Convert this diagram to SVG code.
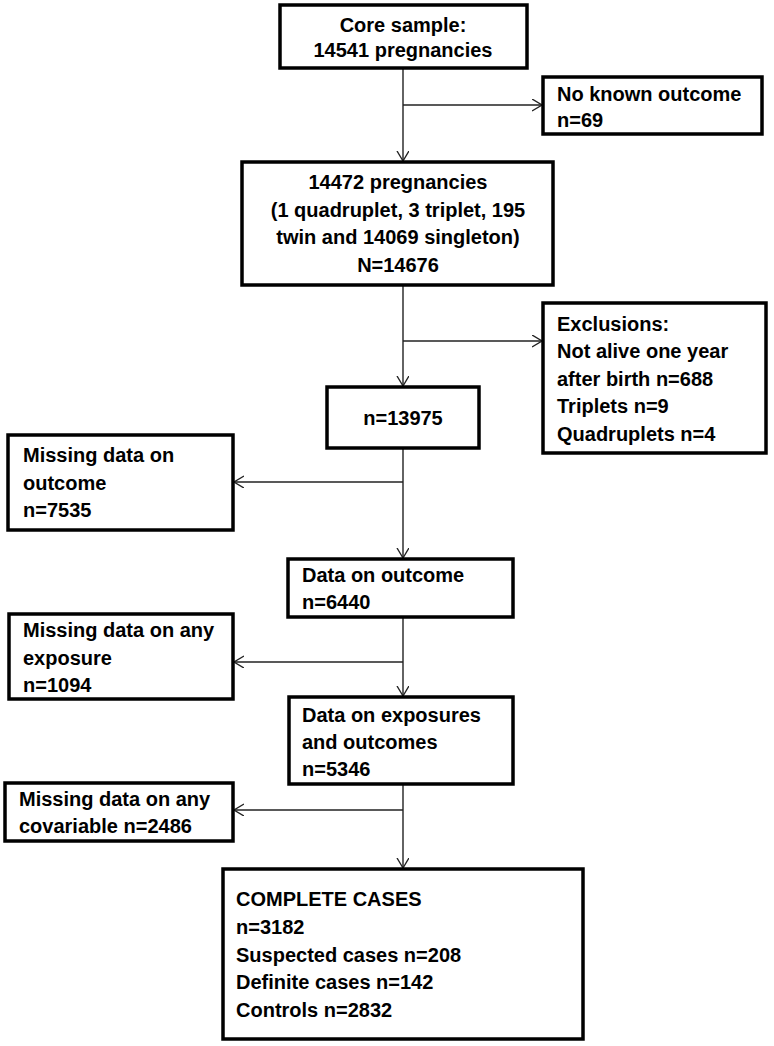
<svg xmlns="http://www.w3.org/2000/svg" width="774" height="1046" viewBox="0 0 774 1046">
<style>
.box{fill:#fff;stroke:#000;stroke-width:3.5}
.t{font-family:"Liberation Sans",Arial,sans-serif;font-weight:bold;font-size:20px;fill:#000}
.c{text-anchor:middle}
.ln{fill:none;stroke:#222;stroke-width:1.4}
</style>
<defs>
<marker id="ah" markerUnits="userSpaceOnUse" markerWidth="12" markerHeight="14" refX="10" refY="6" orient="auto">
<path d="M0,0 L10,6 L0,12" fill="none" stroke="#222" stroke-width="1.4"/>
</marker>
</defs>
<rect width="774" height="1046" fill="#fff"/>
<g id="connectors">
<line class="ln" x1="403" y1="68" x2="403" y2="161" marker-end="url(#ah)"/>
<line class="ln" x1="403" y1="105" x2="542" y2="105" marker-end="url(#ah)"/>
<line class="ln" x1="403" y1="285" x2="403" y2="386" marker-end="url(#ah)"/>
<line class="ln" x1="403" y1="341" x2="542" y2="341" marker-end="url(#ah)"/>
<line class="ln" x1="403" y1="448" x2="403" y2="558" marker-end="url(#ah)"/>
<line class="ln" x1="403" y1="482" x2="234" y2="482" marker-end="url(#ah)"/>
<line class="ln" x1="403" y1="617" x2="403" y2="696" marker-end="url(#ah)"/>
<line class="ln" x1="403" y1="662" x2="234" y2="662" marker-end="url(#ah)"/>
<line class="ln" x1="403" y1="784" x2="403" y2="868" marker-end="url(#ah)"/>
<line class="ln" x1="403" y1="810" x2="234" y2="810" marker-end="url(#ah)"/>
</g>
<g id="core">
<rect class="box" x="280" y="5" width="247" height="63"/>
<text class="t c" x="403" y="32">Core sample:</text>
<text class="t c" x="403" y="57">14541 pregnancies</text>
</g>
<g id="noknown">
<rect class="box" x="543" y="77" width="219" height="57"/>
<text class="t" x="557" y="101">No known outcome</text>
<text class="t" x="557" y="127">n=69</text>
</g>
<g id="preg">
<rect class="box" x="242" y="162" width="311" height="123"/>
<text class="t c" x="398" y="189">14472 pregnancies</text>
<text class="t c" x="398" y="217">(1 quadruplet, 3 triplet, 195</text>
<text class="t c" x="398" y="244">twin and 14069 singleton)</text>
<text class="t c" x="398" y="272">N=14676</text>
</g>
<g id="exclusions">
<rect class="box" x="543" y="303" width="223" height="150"/>
<text class="t" x="557" y="331">Exclusions:</text>
<text class="t" x="557" y="358">Not alive one year</text>
<text class="t" x="557" y="386">after birth n=688</text>
<text class="t" x="557" y="413">Triplets n=9</text>
<text class="t" x="557" y="441">Quadruplets n=4</text>
</g>
<g id="n13975">
<rect class="box" x="327" y="387" width="152" height="61"/>
<text class="t c" x="403" y="425">n=13975</text>
</g>
<g id="missoutcome">
<rect class="box" x="8" y="435" width="225" height="95"/>
<text class="t" x="23" y="462">Missing data on</text>
<text class="t" x="23" y="490">outcome</text>
<text class="t" x="23" y="517">n=7535</text>
</g>
<g id="dataoutcome">
<rect class="box" x="288" y="559" width="225" height="58"/>
<text class="t" x="302" y="582">Data on outcome</text>
<text class="t" x="302" y="609">n=6440</text>
</g>
<g id="missexposure">
<rect class="box" x="9" y="614" width="224" height="85"/>
<text class="t" x="23" y="637">Missing data on any</text>
<text class="t" x="23" y="665">exposure</text>
<text class="t" x="23" y="692">n=1094</text>
</g>
<g id="dataexposure">
<rect class="box" x="289" y="697" width="224" height="87"/>
<text class="t" x="302" y="722">Data on exposures</text>
<text class="t" x="302" y="749">and outcomes</text>
<text class="t" x="302" y="776">n=5346</text>
</g>
<g id="misscovariable">
<rect class="box" x="5" y="783" width="228" height="58"/>
<text class="t" x="19" y="806">Missing data on any</text>
<text class="t" x="19" y="833">covariable n=2486</text>
</g>
<g id="complete">
<rect class="box" x="223" y="869" width="360" height="170"/>
<text class="t" x="236" y="906">COMPLETE CASES</text>
<text class="t" x="236" y="934">n=3182</text>
<text class="t" x="236" y="962">Suspected cases n=208</text>
<text class="t" x="236" y="989">Definite cases n=142</text>
<text class="t" x="236" y="1017">Controls n=2832</text>
</g>
</svg>
